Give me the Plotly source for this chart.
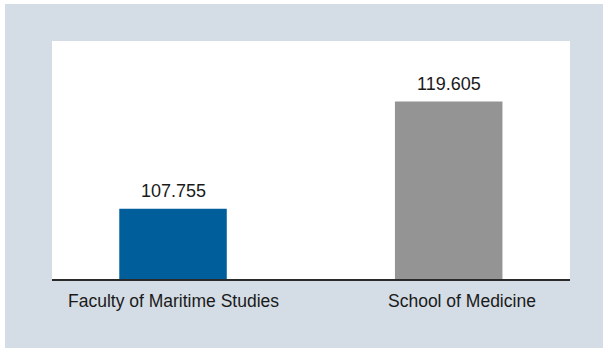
import plotly.graph_objects as go

categories = ["Faculty of Maritime Studies", "School of Medicine"]
values = [107.755, 119.605]
value_labels = ["107.755", "119.605"]
bar_colors = ["#005f9b", "#949494"]

W, H = 604, 348
L, R, T, B = 52, 34, 41, 69
pw, ph = W - L - R, H - T - B
FONT = "Liberation Sans, Arial, sans-serif"
TEXT = "#1a1a1a"
# horizontal nudge (px) of each category caption relative to its bar
caption_nudge = [0, 13]

fig = go.Figure(
    go.Bar(
        x=[0, 1],
        y=values,
        width=0.39,
        marker=dict(color=bar_colors, line=dict(width=0)),
        hoverinfo="skip",
    )
)

# value labels above the bars
for i, (v, lab) in enumerate(zip(values, value_labels)):
    fig.add_annotation(
        x=i, y=v, text=lab, showarrow=False,
        xanchor="center", yanchor="bottom", yshift=6,
        font=dict(family=FONT, size=18, color=TEXT),
    )

# category captions under the baseline
for i, (cat, dx) in enumerate(zip(categories, caption_nudge)):
    fig.add_annotation(
        x=i, xref="x", y=0, yref="paper", text=cat, showarrow=False,
        xanchor="center", yanchor="top", xshift=dx, yshift=-10,
        font=dict(family=FONT, size=17.5, color=TEXT),
    )

# light frame behind the white plotting panel
fig.add_shape(
    type="rect", xref="paper", yref="paper", layer="below",
    x0=(5 - L) / pw, x1=(603 - L) / pw,
    y0=-(B + 2) / ph, y1=1 + (T - 4) / ph,
    fillcolor="#d4dce5", line=dict(width=0),
)
fig.add_shape(
    type="rect", xref="paper", yref="paper", layer="below",
    x0=0, x1=1, y0=0, y1=1,
    fillcolor="white", line=dict(width=0),
)

fig.update_layout(
    width=W, height=H,
    margin=dict(l=L, r=R, t=T, b=B),
    paper_bgcolor="white",
    plot_bgcolor="white",
    showlegend=False,
    font=dict(family=FONT, color=TEXT),
    xaxis=dict(
        range=[-0.439, 1.44],
        showticklabels=False,
        showgrid=False, zeroline=False,
        showline=True, linecolor="#2a2a2a", linewidth=2,
        ticks="",
        fixedrange=True,
    ),
    yaxis=dict(
        range=[100, 126.3],
        visible=False, showgrid=False, zeroline=False,
        fixedrange=True,
    ),
)

fig.write_html("out.html")
